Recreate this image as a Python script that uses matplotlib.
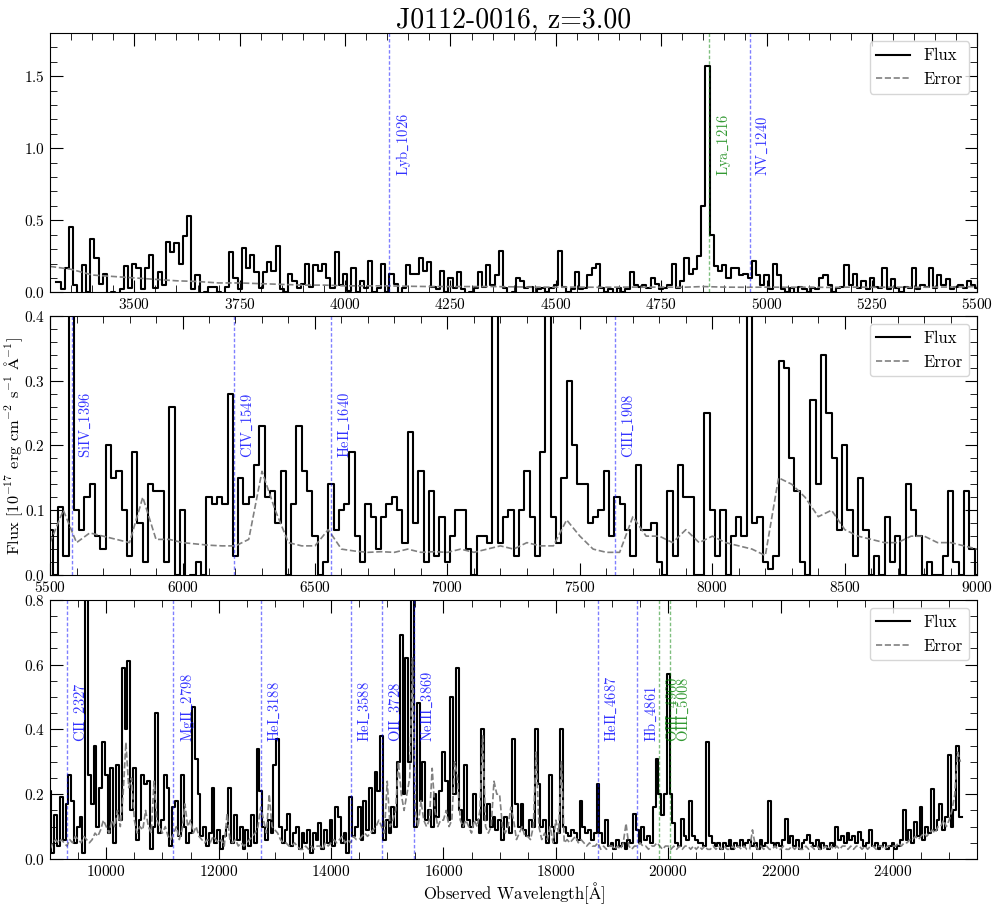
import numpy as np
import matplotlib
matplotlib.use('Agg')
from matplotlib import pyplot as plt
from matplotlib.ticker import MultipleLocator

plt.rcParams['font.family'] = 'serif'
plt.rcParams['font.serif'] = ['cmr10', 'DejaVu Serif']
plt.rcParams['mathtext.fontset'] = 'cm'
plt.rcParams['axes.formatter.use_mathtext'] = True

nan = np.nan
redshift = 3.00
title = 'J0112-0016, z=3.00'

# emission lines (rest wavelength) and label colours
line_names = ['Lyb_1026', 'Lya_1216', 'NV_1240', 'SiIV_1396', 'CIV_1549', 'HeII_1640',
              'CIII_1908', 'CII_2327', 'MgII_2798', 'HeI_3188', 'HeI_3588', 'OII_3728',
              'NeIII_3869', 'HeII_4687', 'Hb_4861', 'OIII_4960', 'OIII_5008']
line_rest = [1026, 1216, 1240, 1396, 1549, 1640, 1908, 2327, 2798, 3188, 3588, 3728,
             3869, 4687, 4861, 4960, 5008]
line_colors = ['b', 'g', 'b', 'b', 'b', 'b', 'b', 'b', 'b', 'b', 'b', 'b',
               'b', 'b', 'b', 'g', 'g']

# panel 1: 3300-5500 A, 10 A pixels
wave1 = np.arange(3300, 5501, 10)
flux1 = [nan, nan, 0.07, 0.02, 0.17, 0.45, 0.05, -0.02, 0.19, 0.00,
         0.37, 0.24, 0.06, 0.13, -0.01, 0.00, -0.03, 0.02, 0.18, 0.03,
         0.20, 0.17, 0.02, 0.17, 0.26, 0.03, 0.14, 0.05, 0.35, 0.28,
         0.34, 0.20, 0.39, 0.53, 0.02, 0.12, -0.02, 0.00, 0.04, 0.04,
         0.00, -0.02, 0.04, 0.28, 0.10, 0.02, 0.31, 0.17, 0.26, 0.14,
         0.03, 0.14, 0.21, 0.15, 0.32, 0.02, 0.00, 0.13, 0.08, 0.03,
         0.06, 0.20, 0.04, 0.19, 0.15, 0.20, 0.10, 0.03, 0.28, 0.05,
         0.13, 0.01, 0.17, 0.00, 0.08, 0.03, 0.22, 0.00, 0.03, 0.20,
         0.00, 0.13, 0.06, -0.02, 0.03, 0.19, 0.13, 0.13, 0.24, 0.15,
         0.21, 0.04, 0.02, 0.15, 0.00, 0.10, 0.03, 0.14, 0.02, -0.01,
         0.00, 0.03, 0.14, 0.04, 0.19, 0.05, 0.12, 0.29, 0.03, -0.02,
         0.00, 0.10, 0.08, 0.03, 0.04, -0.01, 0.02, 0.03, 0.00, 0.03,
         0.05, 0.29, 0.04, 0.00, 0.02, 0.14, 0.02, 0.03, 0.12, 0.17,
         0.20, 0.03, 0.00, 0.02, -0.01, 0.03, 0.00, 0.02, 0.14, 0.05,
         0.04, 0.05, 0.03, 0.10, 0.06, 0.02, 0.03, 0.05, 0.20, 0.03,
         0.08, 0.24, 0.13, 0.16, 0.25, 0.60, 1.57, 0.40, 0.18, 0.15,
         0.19, 0.10, 0.17, 0.17, 0.12, 0.13, 0.10, 0.22, 0.12, 0.05,
         0.12, 0.02, 0.20, 0.12, 0.02, 0.00, 0.03, -0.01, 0.04, 0.02,
         0.00, 0.03, 0.02, 0.10, 0.12, 0.05, 0.00, 0.03, 0.04, 0.19,
         0.05, 0.13, 0.03, 0.08, 0.02, 0.10, 0.04, 0.03, 0.17, 0.02,
         0.09, 0.03, 0.00, 0.04, 0.03, 0.17, 0.02, 0.05, 0.04, 0.17,
         0.03, 0.12, 0.05, 0.09, 0.02, 0.04, 0.05, 0.03, 0.08, 0.05,
         0.03]
wave1_err = np.arange(3300, 5501, 50)
err1 = [0.18, 0.16, 0.12, 0.11, 0.10, 0.09, 0.08, 0.075, 0.065, 0.065,
        0.06, 0.055, 0.05, 0.05, 0.045, 0.045, 0.045, 0.042, 0.04, 0.04,
        0.04, 0.04, 0.038, 0.036, 0.036, 0.036, 0.035, 0.036, 0.036, 0.036,
        0.035, 0.04, 0.036, 0.035, 0.036, 0.035, 0.036, 0.034, 0.036, 0.035,
        0.036, 0.035, 0.036, 0.037, 0.04]

# panel 2: 5500-9000 A, 20 A pixels
wave2 = np.arange(5500, 9001, 20)
flux2 = [0.07, 0.00, 0.105, 0.03, 0.60, 0.10, 0.07, 0.12, 0.14, 0.06,
         0.04, 0.20, 0.15, 0.16, 0.10, 0.03, 0.19, 0.08, 0.02, 0.14,
         0.13, 0.13, 0.02, 0.26, 0.00, 0.10, -0.02, 0.00, 0.02, 0.00,
         0.12, 0.11, 0.12, 0.11, 0.28, 0.03, 0.15, 0.11, 0.12, 0.17,
         0.23, 0.12, 0.13, 0.08, 0.16, 0.00, 0.11, 0.23, 0.16, 0.13,
         0.06, 0.00, 0.02, 0.14, 0.07, 0.10, 0.11, 0.19, 0.06, 0.02,
         0.11, 0.09, 0.04, 0.09, 0.11, 0.12, 0.10, 0.05, 0.22, 0.08,
         0.16, 0.02, 0.13, 0.03, 0.09, 0.02, 0.06, 0.10, 0.10, 0.04,
         0.00, 0.06, 0.06, 0.05, 0.90, 0.05, 0.09, 0.10, 0.03, 0.10,
         0.16, 0.09, 0.03, 0.19, 0.90, 0.09, 0.05, 0.15, 0.30, 0.20,
         0.14, 0.14, 0.08, 0.09, 0.10, 0.16, 0.06, 0.12, 0.11, 0.07,
         0.03, 0.17, 0.07, 0.07, 0.08, 0.02, 0.00, 0.13, 0.03, 0.17,
         0.12, 0.12, 0.00, 0.00, 0.25, 0.10, 0.03, 0.10, 0.00, 0.06,
         0.09, 0.06, 0.90, 0.08, 0.09, 0.02, 0.01, 0.03, 0.33, 0.32,
         0.18, 0.13, 0.02, 0.00, 0.27, 0.14, 0.34, 0.25, 0.18, 0.07,
         0.20, 0.10, 0.03, 0.15, 0.07, 0.00, 0.03, 0.00, 0.09, 0.02,
         0.06, 0.00, 0.14, 0.10, 0.06, 0.00, 0.02, 0.00, 0.00, 0.03,
         0.13, 0.02, 0.00, 0.13, 0.04, 0.00]
wave2_err = np.arange(5500, 9001, 50)
err2 = [0.050, 0.100, 0.050, 0.065, 0.060, 0.055, 0.050, 0.120, 0.055, 0.055,
        0.050, 0.048, 0.046, 0.045, 0.045, 0.055, 0.160, 0.100, 0.050, 0.045,
        0.045, 0.070, 0.040, 0.037, 0.035, 0.036, 0.035, 0.040, 0.035, 0.036,
        0.035, 0.040, 0.035, 0.040, 0.045, 0.040, 0.050, 0.045, 0.045, 0.085,
        0.060, 0.040, 0.035, 0.035, 0.090, 0.060, 0.060, 0.050, 0.070, 0.050,
        0.060, 0.050, 0.045, 0.040, 0.030, 0.150, 0.140, 0.120, 0.090, 0.100,
        0.070, 0.060, 0.055, 0.050, 0.050, 0.060, 0.060, 0.050, 0.050, 0.045,
        0.040]

# panel 3: 9000-25500 A, 50 A pixels
wave3 = np.arange(9000, 25501, 50)
flux3 = [0.21, 0.02, 0.135, 0.04, 0.19, 0.06, 0.17, 0.26, 0.18, 0.05,
         0.10, 0.13, 0.02, 0.82, 0.26, 0.17, 0.35, 0.10, 0.22, 0.36,
         0.26, 0.08, 0.28, 0.05, 0.29, 0.12, 0.59, 0.40, 0.61, 0.15,
         0.28, 0.06, 0.12, 0.26, 0.23, 0.24, 0.03, 0.10, 0.45, 0.08,
         0.12, 0.26, 0.22, 0.04, 0.16, 0.18, 0.07, 0.26, 0.10, 0.05,
         0.08, 0.47, 0.31, 0.20, 0.07, 0.10, 0.04, 0.08, 0.22, 0.05,
         0.09, 0.03, 0.07, 0.10, 0.22, 0.05, 0.135, 0.06, 0.10, 0.03,
         0.09, 0.04, 0.135, 0.05, 0.34, 0.21, 0.10, 0.06, 0.12, 0.08,
         0.29, 0.37, 0.10, 0.05, 0.09, 0.14, 0.04, 0.08, 0.10, 0.03,
         0.08, 0.05, 0.09, 0.02, 0.08, 0.06, 0.11, 0.03, 0.09, 0.05,
         0.12, 0.04, 0.16, 0.13, 0.05, 0.08, 0.02, 0.19, 0.07, 0.10,
         0.16, 0.06, 0.18, 0.09, 0.22, 0.08, 0.27, 0.21, 0.38, 0.06,
         0.12, 0.08, 0.16, 0.10, 0.30, 0.69, 0.20, 0.62, 0.30, 0.85,
         0.10, 0.48, 0.18, 0.30, 0.12, 0.15, 0.10, 0.20, 0.13, 0.21,
         0.33, 0.24, 0.12, 0.50, 0.20, 0.59, 0.15, 0.10, 0.29, 0.12,
         0.10, 0.20, 0.12, 0.08, 0.40, 0.12, 0.17, 0.10, 0.13, 0.09,
         0.12, 0.06, 0.13, 0.10, 0.08, 0.37, 0.17, 0.10, 0.17, 0.09,
         0.07, 0.12, 0.10, 0.40, 0.23, 0.10, 0.12, 0.05, 0.26, 0.10,
         0.05, 0.08, 0.40, 0.10, 0.08, 0.07, 0.09, 0.08, 0.06, 0.18,
         0.10, 0.08, 0.09, 0.06, 0.08, 0.23, 0.08, 0.05, 0.12, 0.04,
         0.05, 0.03, 0.06, 0.04, 0.05, 0.03, 0.06, 0.05, 0.14, 0.09,
         0.05, 0.10, 0.06, 0.07, 0.05, 0.16, 0.31, 0.20, 0.135, 0.20,
         0.57, 0.20, 0.11, 0.05, 0.04, 0.125, 0.07, 0.06, 0.18, 0.07,
         0.06, 0.05, 0.05, 0.04, 0.36, 0.07, 0.05, 0.04, 0.05, 0.03,
         0.05, 0.04, 0.06, 0.03, 0.05, 0.04, 0.06, 0.04, 0.05, 0.06,
         0.04, 0.05, 0.03, 0.06, 0.04, 0.05, 0.18, 0.05, 0.04, 0.05,
         0.04, 0.06, 0.125, 0.05, 0.07, 0.04, 0.06, 0.03, 0.05, 0.06,
         0.075, 0.05, 0.04, 0.06, 0.03, 0.05, 0.04, 0.03, 0.05, 0.04,
         0.10, 0.06, 0.07, 0.05, 0.08, 0.06, 0.07, 0.05, 0.082, 0.06,
         0.04, 0.05, 0.09, 0.04, 0.05, 0.03, 0.04, 0.05, 0.03, 0.04,
         0.05, 0.03, 0.04, 0.06, 0.15, 0.06, 0.09, 0.05, 0.115, 0.07,
         0.16, 0.06, 0.10, 0.08, 0.215, 0.09, 0.12, 0.17, 0.09, 0.13,
         0.32, 0.10, 0.15, 0.35, 0.13, nan, nan, nan, nan, nan,
         nan]
wave3_err = wave3
err3 = [0.03, 0.05, 0.06, 0.05, 0.06, 0.05, 0.04, 0.06, 0.05, 0.07,
        0.06, 0.05, 0.07, 0.06, 0.05, 0.06, 0.08, 0.07, 0.09, 0.12,
        0.10, 0.08, 0.12, 0.10, 0.15, 0.10, 0.20, 0.36, 0.22, 0.25,
        0.12, 0.08, 0.10, 0.09, 0.15, 0.10, 0.08, 0.24, 0.12, 0.10,
        0.08, 0.10, 0.07, 0.06, 0.08, 0.10, 0.06, 0.09, 0.17, 0.10,
        0.12, 0.08, 0.10, 0.07, 0.06, 0.05, 0.06, 0.05, 0.07, 0.06,
        0.05, 0.06, 0.04, 0.14, 0.06, 0.05, 0.06, 0.04, 0.05, 0.04,
        0.05, 0.06, 0.07, 0.08, 0.10, 0.16, 0.12, 0.08, 0.20, 0.10,
        0.09, 0.08, 0.06, 0.05, 0.05, 0.04, 0.04, 0.05, 0.04, 0.03,
        0.03, 0.04, 0.03, 0.04, 0.03, 0.04, 0.04, 0.03, 0.05, 0.04,
        0.05, 0.06, 0.05, 0.06, 0.07, 0.05, 0.06, 0.05, 0.07, 0.06,
        0.06, 0.07, 0.08, 0.07, 0.08, 0.09, 0.10, 0.12, 0.10, 0.08,
        0.24, 0.10, 0.12, 0.15, 0.30, 0.20, 0.15, 0.20, 0.25, 0.62,
        0.15, 0.10, 0.18, 0.12, 0.10, 0.12, 0.28, 0.15, 0.10, 0.12,
        0.12, 0.15, 0.10, 0.12, 0.30, 0.25, 0.12, 0.10, 0.12, 0.10,
        0.08, 0.12, 0.10, 0.15, 0.38, 0.10, 0.08, 0.10, 0.24, 0.20,
        0.20, 0.10, 0.08, 0.10, 0.16, 0.12, 0.06, 0.08, 0.10, 0.07,
        0.07, 0.06, 0.10, 0.33, 0.10, 0.06, 0.08, 0.06, 0.10, 0.05,
        0.12, 0.08, 0.30, 0.05, 0.06, 0.05, 0.06, 0.07, 0.05, 0.06,
        0.05, 0.04, 0.05, 0.04, 0.04, 0.05, 0.03, 0.04, 0.03, 0.04,
        0.04, 0.03, 0.04, 0.03, 0.05, 0.11, 0.04, 0.03, 0.04, 0.04,
        0.05, 0.04, 0.04, 0.03, 0.04, 0.04, 0.05, 0.04, 0.03, 0.04,
        0.04, 0.03, 0.04, 0.03, 0.04, 0.03, 0.04, 0.04, 0.03, 0.04,
        0.03, 0.04, 0.03, 0.04, 0.03, 0.03, 0.04, 0.03, 0.04, 0.03,
        0.04, 0.03, 0.03, 0.04, 0.03, 0.04, 0.03, 0.04, 0.03, 0.03,
        0.09, 0.04, 0.03, 0.04, 0.03, 0.04, 0.03, 0.03, 0.04, 0.03,
        0.03, 0.04, 0.03, 0.03, 0.04, 0.03, 0.04, 0.03, 0.03, 0.04,
        0.03, 0.04, 0.03, 0.04, 0.03, 0.03, 0.04, 0.03, 0.04, 0.03,
        0.04, 0.03, 0.04, 0.04, 0.03, 0.04, 0.03, 0.04, 0.04, 0.03,
        0.04, 0.03, 0.04, 0.04, 0.03, 0.04, 0.04, 0.03, 0.04, 0.04,
        0.04, 0.04, 0.05, 0.04, 0.05, 0.05, 0.06, 0.06, 0.07, 0.06,
        0.07, 0.08, 0.07, 0.08, 0.09, 0.08, 0.10, 0.10, 0.12, 0.10,
        0.12, 0.15, 0.20, 0.33, 0.30, nan, nan, nan, nan, nan,
        nan]

panels = [
    (wave1, flux1, wave1_err, err1, (3300, 5500), (0, 1.8), 250, 50, 0.5, 0.1),
    (wave2, flux2, wave2_err, err2, (5500, 9000), (0, 0.4), 500, 100, 0.1, 0.02),
    (wave3, flux3, wave3_err, err3, (9000, 25500), (0, 0.8), 2000, 500, 0.2, 0.05),
]

fig = plt.figure(figsize=(9.97, 9.05), dpi=100)
bottoms = [0.677, 0.3646, 0.0508]
axes = []
for (w, f, we, e, xl, yl, xmaj, xmin, ymaj, ymin), b in zip(panels, bottoms):
    ax = fig.add_axes([0.0502, b, 0.930, 0.2865])
    axes.append(ax)
    ax.plot(w, f, color='k', lw=1.5, drawstyle='steps-mid', label='Flux')
    ax.plot(we, e, color='gray', lw=1.2, ls='--', label='Error')
    for name, rest, c in zip(line_names, line_rest, line_colors):
        obs = rest * (1 + redshift)
        if xl[0] < obs < xl[1]:
            ax.axvline(obs, color=c, ls=(0, (2.5, 1.5)), lw=1.0, alpha=0.5)
            label = r'$\mathrm{' + name.replace('_', r'\_') + '}$'
            ax.annotate(label, xy=(obs, 0.45), xycoords=('data', 'axes fraction'),
                        xytext=(4, 0), textcoords='offset points',
                        rotation=90, ha='left', va='bottom', color=c,
                        fontsize=10.5, alpha=0.8)
    ax.set_xlim(*xl)
    ax.set_ylim(*yl)
    ax.xaxis.set_major_locator(MultipleLocator(xmaj))
    ax.xaxis.set_minor_locator(MultipleLocator(xmin))
    ax.yaxis.set_major_locator(MultipleLocator(ymaj))
    ax.yaxis.set_minor_locator(MultipleLocator(ymin))
    ax.tick_params(which='both', direction='in', top=True, right=True, labelsize=11)
    ax.tick_params(which='major', length=9)
    ax.tick_params(which='minor', length=5)
    ax.legend(loc='upper right', fontsize=12)

axes[0].set_title(title, fontsize=20, pad=3)
axes[1].set_ylabel(r'Flux [$10^{-17}$ erg cm$^{-2}$ s$^{-1}$ $\mathrm{\AA}^{-1}$]',
                   fontsize=11.8, labelpad=-1)
axes[2].set_xlabel(r'Observed Wavelength[$\mathrm{\AA}$]', fontsize=12, labelpad=1)

plt.savefig('out.png', dpi=100)
